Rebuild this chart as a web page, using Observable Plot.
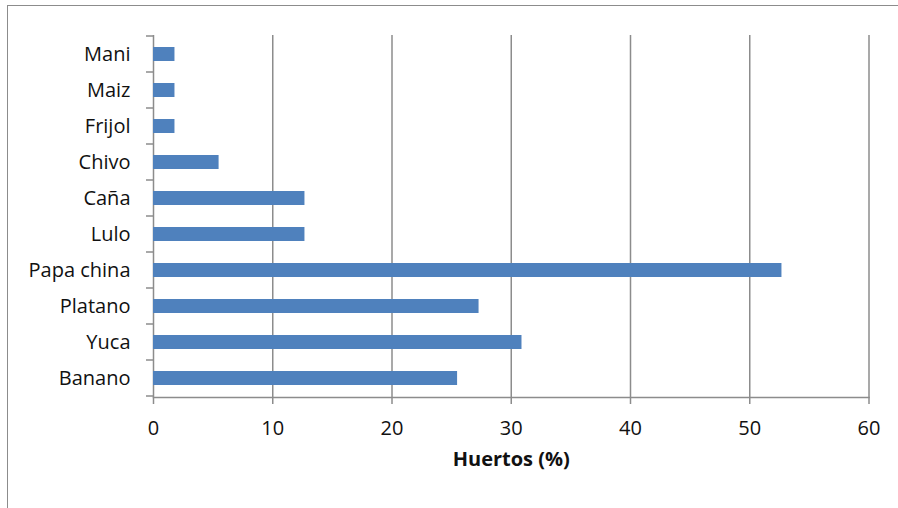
<!DOCTYPE html>
<html>
<head>
<meta charset="utf-8">
<script src="https://cdn.jsdelivr.net/npm/d3@7"></script>
<script src="https://cdn.jsdelivr.net/npm/@observablehq/plot@0.6"></script>
<style>
  html, body { margin: 0; padding: 0; background: #fff; overflow: hidden; }
  #wrap { position: relative; width: 898px; height: 508px; overflow: hidden; }
  #border { position: absolute; left: 7px; top: 5px; width: 1200px; height: 1200px;
            border: 1.5px solid #8c8c8c; box-sizing: border-box; }
  #chart { position: absolute; left: 0; top: 0; }
</style>
</head>
<body>
<div id="wrap"><div id="border"></div><div id="chart"></div></div>
<script>
// Share of home gardens (%) growing each crop / raising each animal
const crops = ["Mani", "Maiz", "Frijol", "Chivo", "Caña", "Lulo", "Papa china", "Platano", "Yuca", "Banano"];
const shares = [1.8, 1.8, 1.8, 5.5, 12.7, 12.7, 52.7, 27.3, 30.9, 25.5];
const xTicks = [0, 10, 20, 30, 40, 50, 60];
const xLabel = "Huertos (%)";

const rows = crops.map((crop, i) => ({crop, share: shares[i]}));

const axisGray = "#8c8c8c";
const barBlue = "#4f81bd";
const textSize = 20;

// Short tick marks at the boundaries between category bands on the left axis
function bandBoundaryTicks(index, scales, values, dimensions) {
  const y = scales.y;
  const step = y(crops[1]) - y(crops[0]);
  const bw = typeof y.bandwidth === "function" ? y.bandwidth() : step * 0.387;
  const gap = (step - bw) / 2;
  const g = document.createElementNS("http://www.w3.org/2000/svg", "g");
  const x0 = dimensions.marginLeft;
  const edges = crops.map(c => y(c) - gap);
  edges.push(y(crops[crops.length - 1]) + bw + gap);
  for (const e of edges) {
    const l = document.createElementNS("http://www.w3.org/2000/svg", "line");
    l.setAttribute("x1", x0 - 7);
    l.setAttribute("x2", x0);
    l.setAttribute("y1", e);
    l.setAttribute("y2", e);
    l.setAttribute("stroke", axisGray);
    l.setAttribute("stroke-width", 1.5);
    g.appendChild(l);
  }
  return g;
}

const chart = Plot.plot({
  width: 898,
  height: 508,
  marginTop: 35,
  marginBottom: 111,
  marginLeft: 153,
  marginRight: 29.5,
  style: {fontFamily: "'Open Sans', sans-serif", fontSize: textSize + "px", color: "#000", background: "transparent"},
  x: {domain: [0, 60], ticks: xTicks},
  y: {domain: crops, paddingInner: 0.613, paddingOuter: 0.3065},
  marks: [
    Plot.gridX(xTicks, {stroke: axisGray, strokeOpacity: 1, strokeWidth: 1.5}),
    Plot.barX(rows, {x: "share", y: "crop", fill: barBlue}),
    Plot.frame({anchor: "bottom", stroke: axisGray, strokeWidth: 1.5}),
    Plot.axisX(xTicks, {tickSize: 7, tickPadding: 16, stroke: axisGray, strokeWidth: 1.5, fill: "#111", fontSize: textSize, label: null, tickFormat: d => String(d)}),
    Plot.axisY({tickSize: 0, tickPadding: 23, fill: "#111", fontSize: textSize, label: null}),
    bandBoundaryTicks,
    Plot.text([xLabel], {frameAnchor: "bottom", dy: 68, fontWeight: "bold", fill: "#111", fontSize: textSize})
  ]
});

document.getElementById("chart").appendChild(chart);
</script>
</body>
</html>
